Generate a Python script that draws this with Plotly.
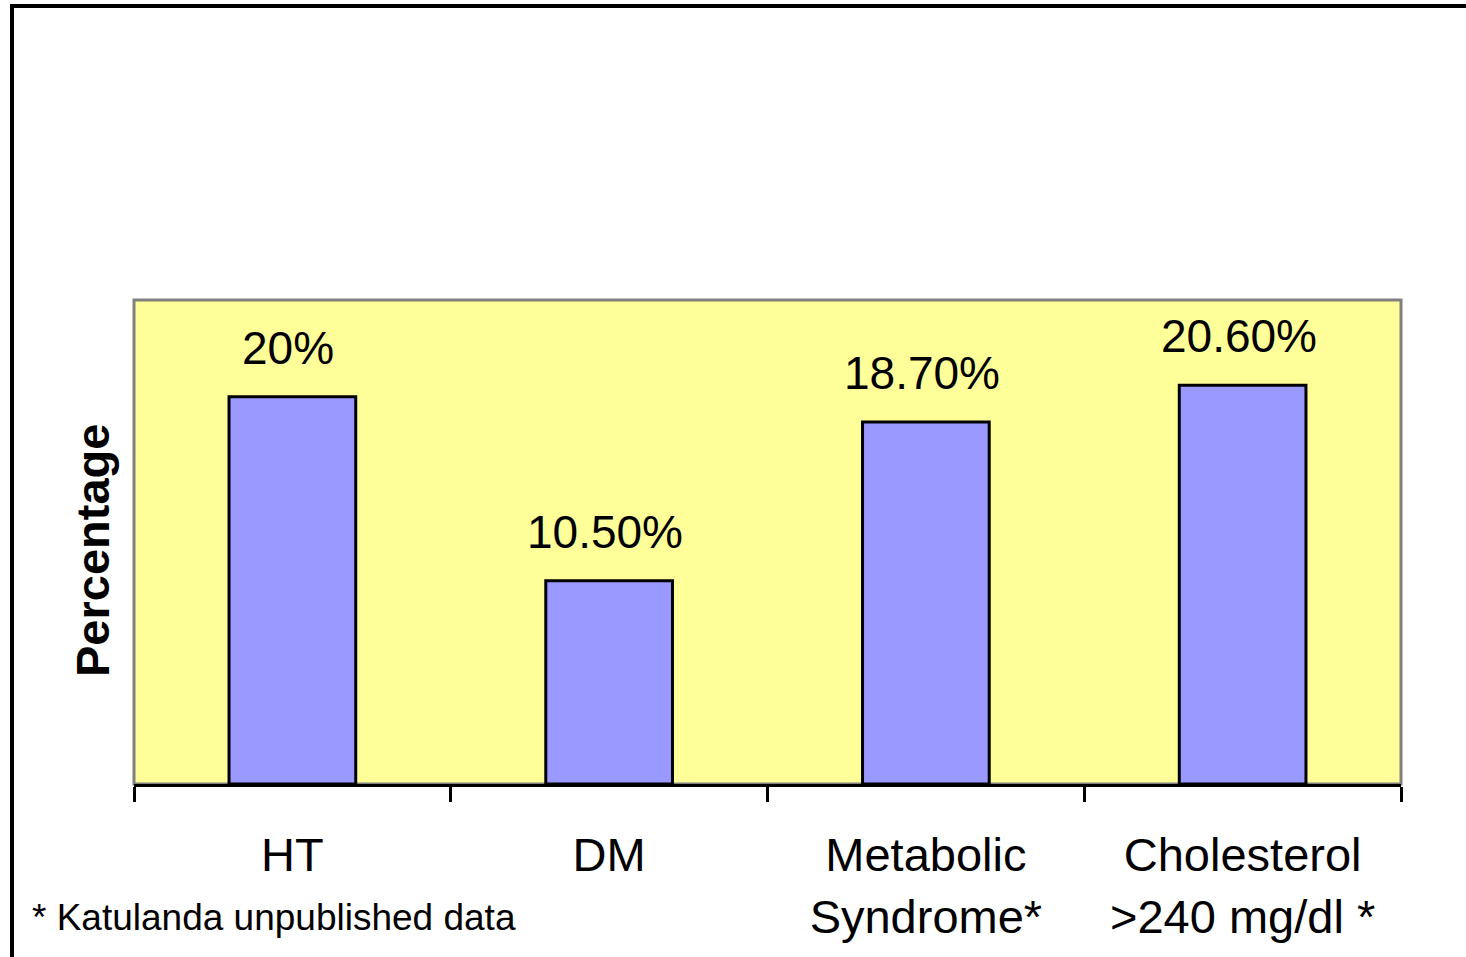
import plotly.graph_objects as go

# Prevalence of cardiovascular risk factors
categories = ["HT", "DM", "Metabolic<br>Syndrome*", "Cholesterol<br>>240 mg/dl *"]
values = [20.0, 10.5, 18.7, 20.6]
value_labels = ["20%", "10.50%", "18.70%", "20.60%"]
footnote = "* Katulanda unpublished data"
y_title = "Percentage"

FONT = "Arial, Liberation Sans, sans-serif"
W, H = 1466, 957
L, R, T, B = 134, 65, 300, 173
plot_w = W - L - R
plot_h = H - T - B


def px_to_paper_x(px):
    return (px - L) / plot_w


def px_to_paper_y(py):
    return (H - B - py) / plot_h


fig = go.Figure(
    go.Bar(
        x=categories,
        y=values,
        marker=dict(color="#9999FF", line=dict(color="black", width=3)),
        width=0.4,
        hoverinfo="skip",
    )
)

# value labels above bars
for cat, val, lab in zip(categories, values, value_labels):
    fig.add_annotation(
        x=cat, y=val, text=lab, showarrow=False,
        xanchor="center", yanchor="bottom", yshift=21, xshift=-4,
        font=dict(family=FONT, size=46, color="black"),
    )

# rotated axis title
fig.add_annotation(
    xref="paper", yref="paper",
    x=px_to_paper_x(92), y=px_to_paper_y(551),
    text=f"<b>{y_title}</b>", textangle=-90, showarrow=False,
    xanchor="center", yanchor="middle",
    font=dict(family=FONT, size=47, color="black"),
)

# footnote
fig.add_annotation(
    xref="paper", yref="paper",
    x=px_to_paper_x(30), y=px_to_paper_y(917),
    text=footnote, showarrow=False,
    xanchor="left", yanchor="middle",
    font=dict(family=FONT, size=37, color="black"),
)

# gray frame around plotting area
fig.add_shape(
    type="rect", xref="paper", yref="paper", x0=0, x1=1, y0=0, y1=1,
    line=dict(color="#808080", width=3), layer="below",
)

# outer slide frame (left and top edges)
fig.add_shape(
    type="line", xref="paper", yref="paper",
    x0=px_to_paper_x(12), x1=px_to_paper_x(12),
    y0=px_to_paper_y(5), y1=px_to_paper_y(H + 10),
    line=dict(color="black", width=4),
)
fig.add_shape(
    type="line", xref="paper", yref="paper",
    x0=px_to_paper_x(10), x1=px_to_paper_x(W + 10),
    y0=px_to_paper_y(6), y1=px_to_paper_y(6),
    line=dict(color="black", width=4),
)

fig.update_layout(
    width=W, height=H,
    margin=dict(l=L, r=R, t=T, b=B, pad=0),
    paper_bgcolor="white",
    plot_bgcolor="#FFFF99",
    showlegend=False,
    font=dict(family=FONT, color="black"),
    xaxis=dict(
        type="category",
        range=[-0.5, 3.5],
        tickson="boundaries",
        ticks="outside", ticklen=15, tickwidth=3, tickcolor="black",
        showline=True, linecolor="black", linewidth=3,
        showgrid=False, zeroline=False,
        tickfont=dict(family=FONT, size=47, color="black"),
        ticklabelstandoff=28,
    ),
    yaxis=dict(
        range=[0, 25],
        showticklabels=False, ticks="",
        showgrid=False, zeroline=False, showline=False,
    ),
)

fig.write_html("out.html")
